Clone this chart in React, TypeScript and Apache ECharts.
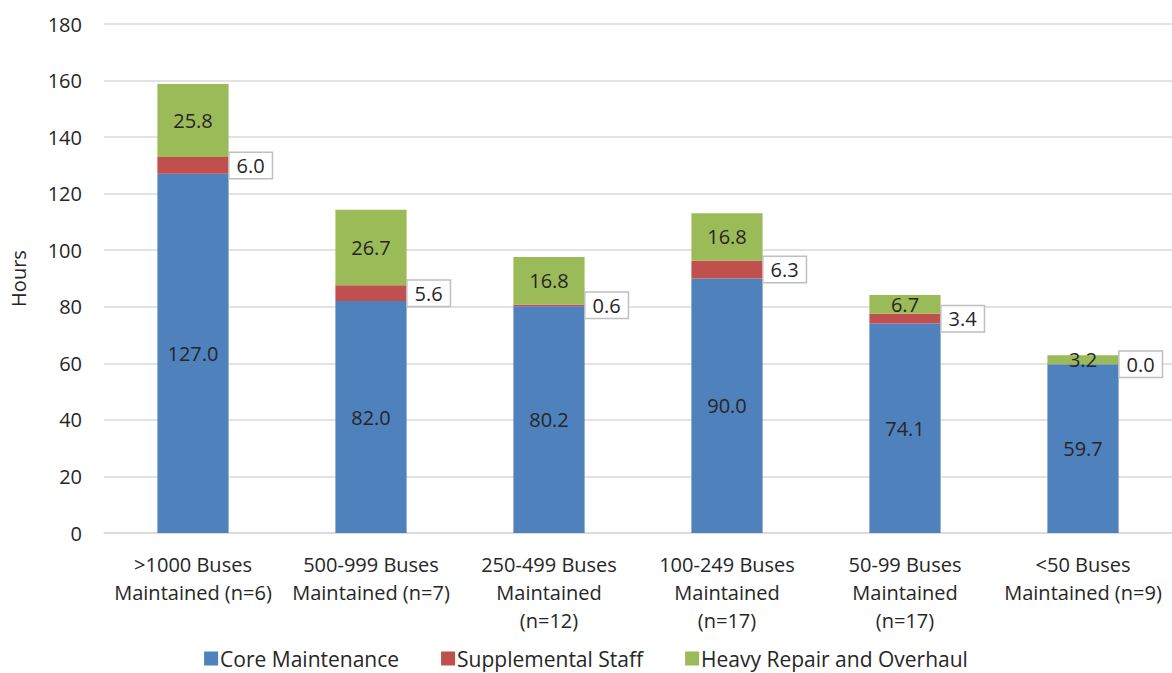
import React, { useEffect, useRef } from "react";
import * as echarts from "echarts";

const categories = [
  ">1000 Buses\nMaintained (n=6)",
  "500-999 Buses\nMaintained (n=7)",
  "250-499 Buses\nMaintained\n(n=12)",
  "100-249 Buses\nMaintained\n(n=17)",
  "50-99 Buses\nMaintained\n(n=17)",
  "<50 Buses\nMaintained (n=9)",
];
const coreMaintenance = [127.0, 82.0, 80.2, 90.0, 74.1, 59.7];
const supplementalStaff = [6.0, 5.6, 0.6, 6.3, 3.4, 0.0];
const heavyRepair = [25.8, 26.7, 16.8, 16.8, 6.7, 3.2];

const FONT = "'Open Sans', 'Noto Sans', sans-serif";
const TEXT = "#262626";
const FS = 20;

export default function App() {
  const ref = useRef<HTMLDivElement>(null);

  useEffect(() => {
    if (!ref.current) return;
    const chart = echarts.init(ref.current, undefined, { renderer: "svg" });
    const fmt = (p: any) => Number(p.value).toFixed(1);
    chart.setOption({
      animation: false,
      textStyle: { fontFamily: FONT },
      grid: { left: 99, right: 0, top: 24, bottom: 140 },
      legend: {
        top: 643,
        left: "center",
        itemWidth: 14,
        itemHeight: 14,
        itemGap: 42,
        icon: "rect",
        textStyle: { fontSize: 21, color: TEXT, fontFamily: FONT, padding: [0, 0, 0, -3] },
        data: ["Core Maintenance", "Supplemental Staff", "Heavy Repair and Overhaul"],
      },
      xAxis: {
        type: "category",
        data: categories,
        axisLine: { lineStyle: { color: "#d9d9d9", width: 1.5 } },
        axisTick: { show: false },
        axisLabel: {
          interval: 0,
          margin: 17,
          fontSize: FS,
          lineHeight: 28,
          color: TEXT,
          fontFamily: FONT,
        },
      },
      yAxis: {
        type: "value",
        min: 0,
        max: 180,
        interval: 20,
        name: "Hours",
        nameLocation: "middle",
        nameGap: 76,
        nameTextStyle: { fontSize: FS, color: TEXT, fontFamily: FONT },
        axisLine: { show: false },
        axisTick: { show: false },
        axisLabel: { fontSize: FS, color: TEXT, margin: 22, fontFamily: FONT },
        splitLine: { lineStyle: { color: "#d9d9d9", width: 1.5 } },
      },
      series: [
        {
          name: "Core Maintenance",
          type: "bar",
          stack: "total",
          barWidth: "40%",
          data: coreMaintenance,
          itemStyle: { color: "#4F81BD" },
          label: {
            show: true,
            position: "inside",
            formatter: fmt,
            fontSize: FS,
            color: TEXT,
            fontFamily: FONT,
          },
        },
        {
          name: "Supplemental Staff",
          type: "bar",
          stack: "total",
          data: supplementalStaff,
          itemStyle: { color: "#C0504D" },
          label: {
            show: true,
            position: "right",
            distance: 1,
            formatter: fmt,
            fontSize: FS,
            color: TEXT,
            fontFamily: FONT,
            backgroundColor: "#ffffff",
            borderColor: "#bfbfbf",
            borderWidth: 1.5,
            padding: [3, 7, 2, 7],
          },
        },
        {
          name: "Heavy Repair and Overhaul",
          type: "bar",
          stack: "total",
          data: heavyRepair,
          itemStyle: { color: "#9BBB59" },
          label: {
            show: true,
            position: "inside",
            formatter: fmt,
            fontSize: FS,
            color: TEXT,
            fontFamily: FONT,
          },
        },
      ],
    });
    return () => chart.dispose();
  }, []);

  return (
    <div
      ref={ref}
      style={{ position: "absolute", left: 0, top: 0, width: 1172, height: 673, background: "#fff" }}
    />
  );
}
